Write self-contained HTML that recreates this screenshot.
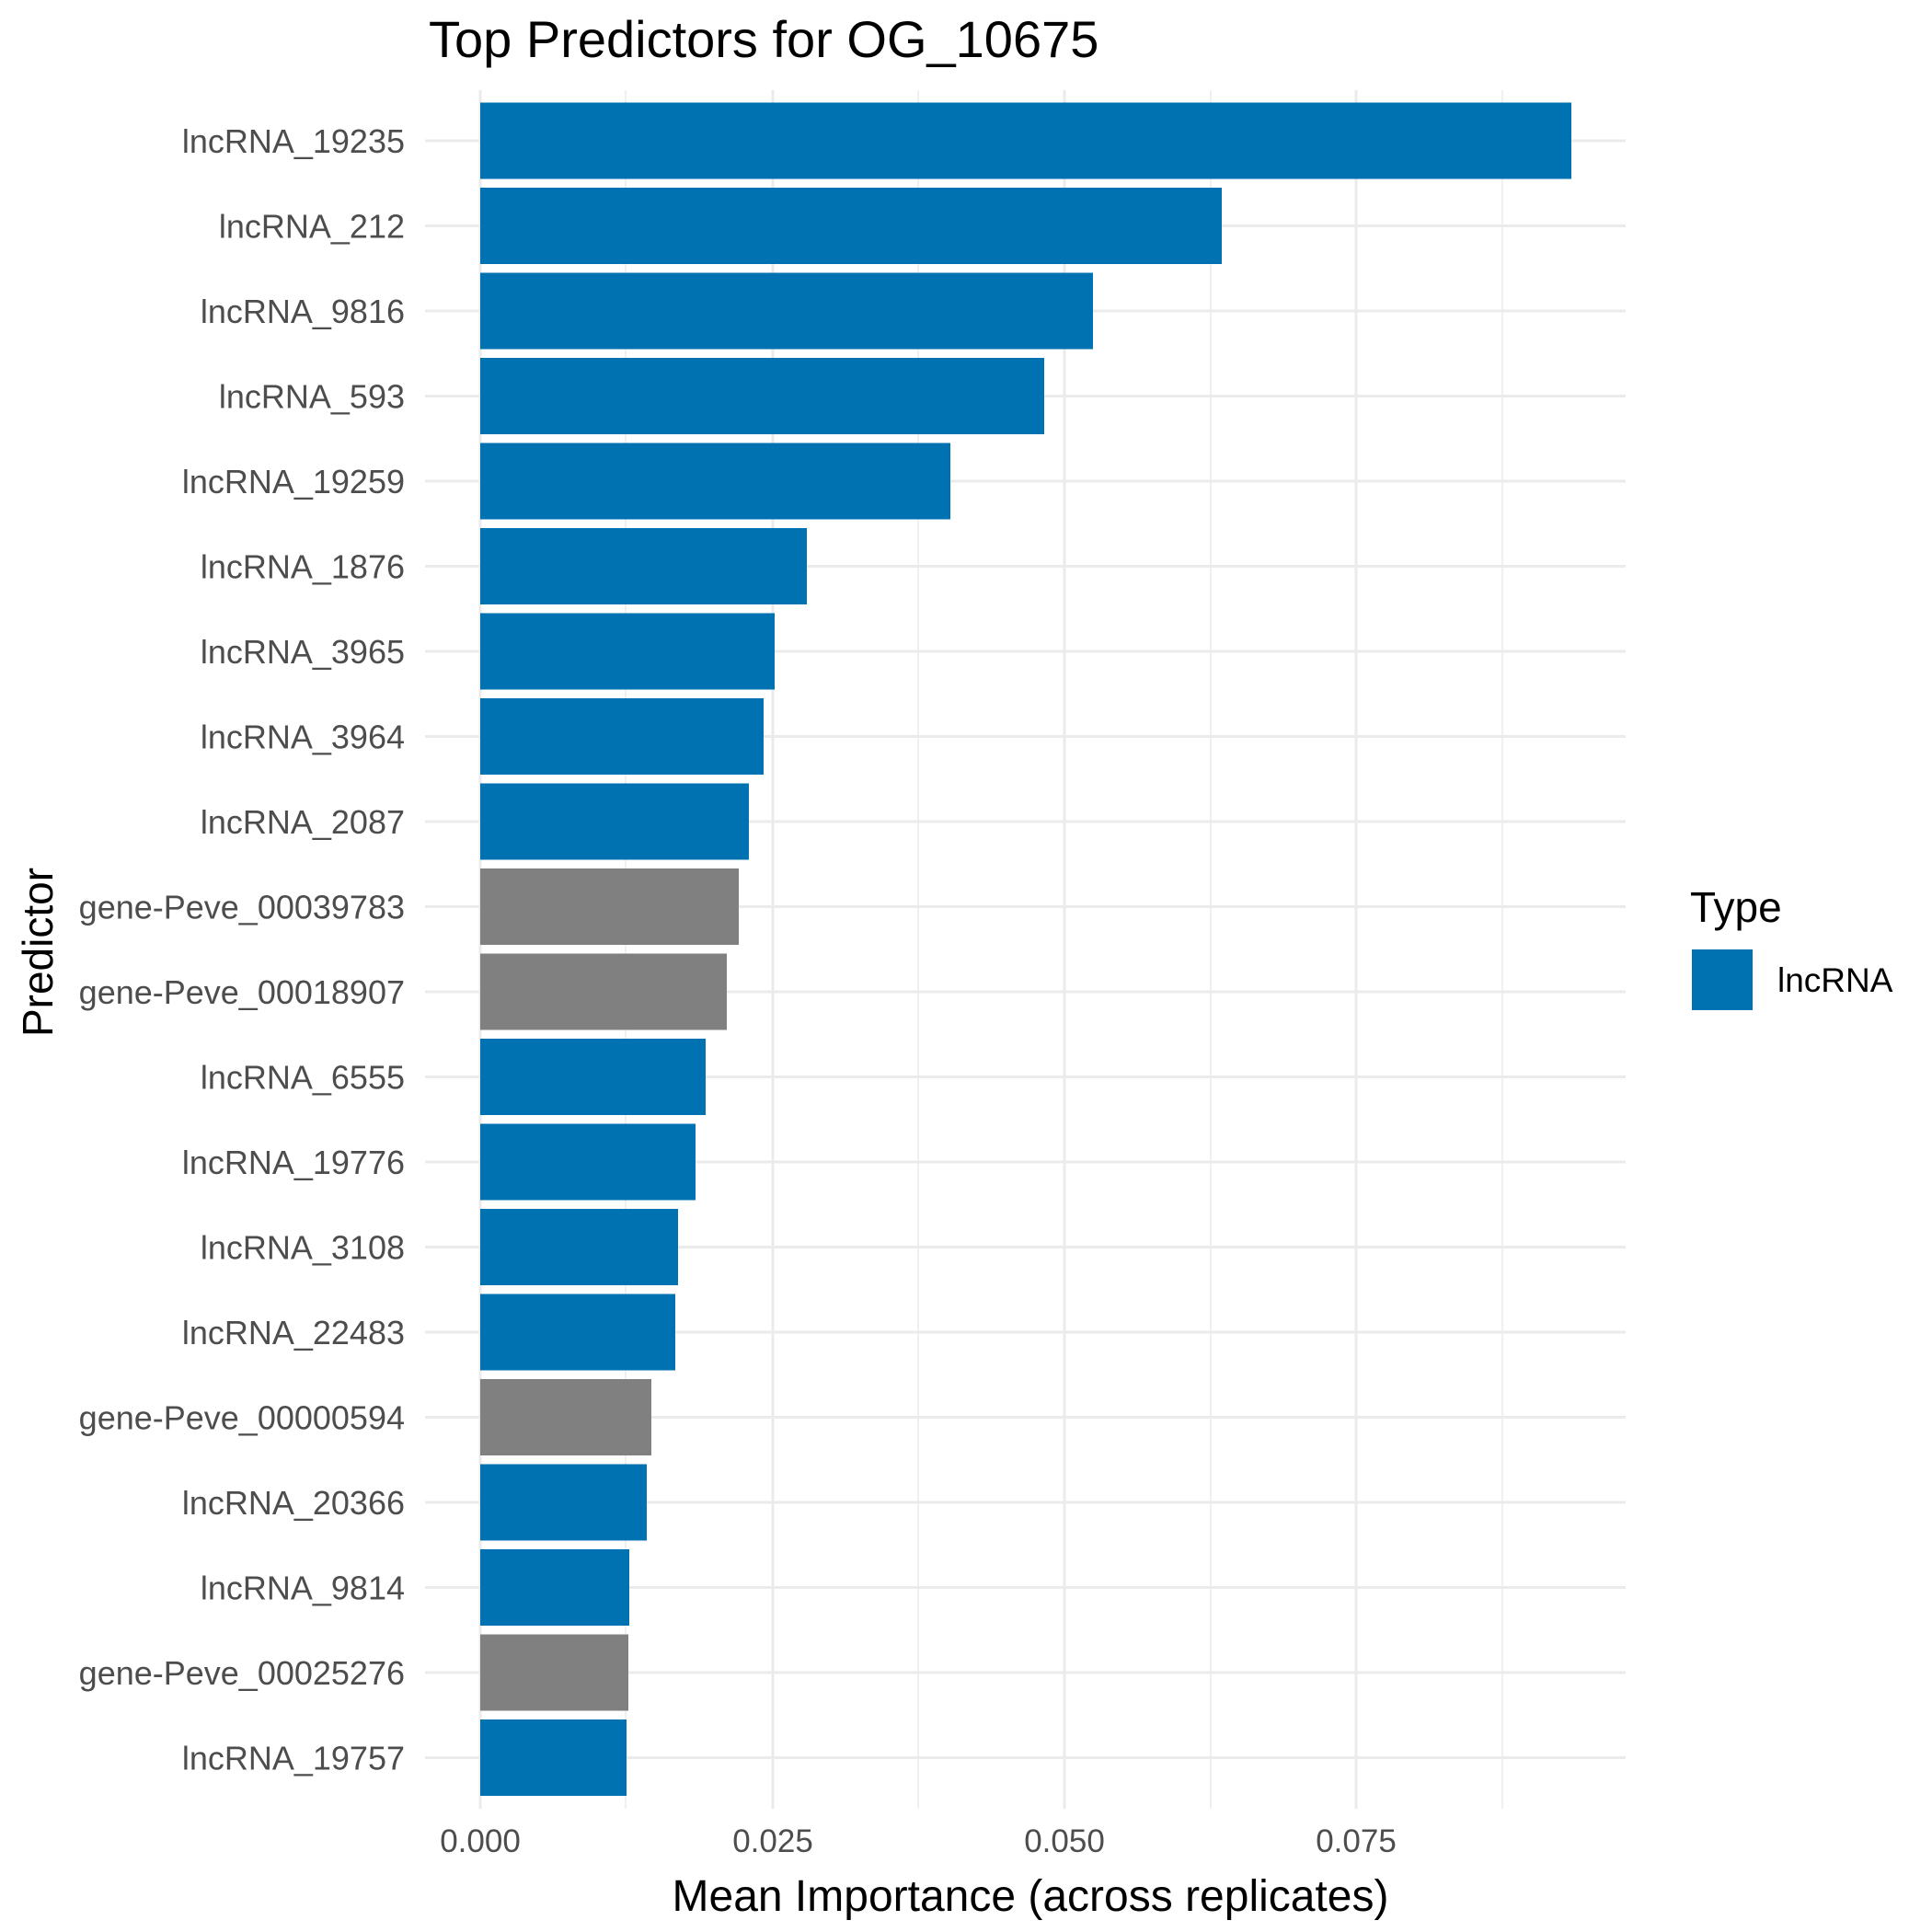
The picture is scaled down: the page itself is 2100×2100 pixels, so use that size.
<!DOCTYPE html>
<html><head><meta charset="utf-8"><style>html,body{margin:0;padding:0;background:#fff}svg{display:block}</style></head>
<body>
<svg width="2100" height="2100" viewBox="0 0 2100 2100" xmlns="http://www.w3.org/2000/svg" font-family="Liberation Sans, sans-serif">
<rect width="2100" height="2100" fill="#fff"/>
<g stroke="#EBEBEB">
<line x1="680" y1="98" x2="680" y2="1966" stroke-width="1.5"/>
<line x1="998" y1="98" x2="998" y2="1966" stroke-width="1.5"/>
<line x1="1316" y1="98" x2="1316" y2="1966" stroke-width="1.5"/>
<line x1="1633" y1="98" x2="1633" y2="1966" stroke-width="1.5"/>
<line x1="522" y1="98" x2="522" y2="1966" stroke-width="3"/>
<line x1="840" y1="98" x2="840" y2="1966" stroke-width="3"/>
<line x1="1157" y1="98" x2="1157" y2="1966" stroke-width="3"/>
<line x1="1474" y1="98" x2="1474" y2="1966" stroke-width="3"/>
</g>
<g stroke="#EBEBEB" stroke-width="3">
<line x1="462" y1="153" x2="1767" y2="153"/>
<line x1="462" y1="245.5" x2="1767" y2="245.5"/>
<line x1="462" y1="338" x2="1767" y2="338"/>
<line x1="462" y1="430.5" x2="1767" y2="430.5"/>
<line x1="462" y1="523" x2="1767" y2="523"/>
<line x1="462" y1="615.5" x2="1767" y2="615.5"/>
<line x1="462" y1="708" x2="1767" y2="708"/>
<line x1="462" y1="800.5" x2="1767" y2="800.5"/>
<line x1="462" y1="893" x2="1767" y2="893"/>
<line x1="462" y1="985.5" x2="1767" y2="985.5"/>
<line x1="462" y1="1078" x2="1767" y2="1078"/>
<line x1="462" y1="1170.5" x2="1767" y2="1170.5"/>
<line x1="462" y1="1263" x2="1767" y2="1263"/>
<line x1="462" y1="1355.5" x2="1767" y2="1355.5"/>
<line x1="462" y1="1448" x2="1767" y2="1448"/>
<line x1="462" y1="1540.5" x2="1767" y2="1540.5"/>
<line x1="462" y1="1633" x2="1767" y2="1633"/>
<line x1="462" y1="1725.5" x2="1767" y2="1725.5"/>
<line x1="462" y1="1818" x2="1767" y2="1818"/>
<line x1="462" y1="1910.5" x2="1767" y2="1910.5"/>
</g>
<g fill="#0072B2">
<rect x="522" y="111.5" width="1186" height="83"/>
<rect x="522" y="204" width="806" height="83"/>
<rect x="522" y="296.5" width="666" height="83"/>
<rect x="522" y="389" width="613" height="83"/>
<rect x="522" y="481.5" width="511" height="83"/>
<rect x="522" y="574" width="355" height="83"/>
<rect x="522" y="666.5" width="320" height="83"/>
<rect x="522" y="759" width="308" height="83"/>
<rect x="522" y="851.5" width="292" height="83"/>
<rect x="522" y="944" width="281" height="83" fill="#808080"/>
<rect x="522" y="1036.5" width="268" height="83" fill="#808080"/>
<rect x="522" y="1129" width="245" height="83"/>
<rect x="522" y="1221.5" width="234" height="83"/>
<rect x="522" y="1314" width="215" height="83"/>
<rect x="522" y="1406.5" width="212" height="83"/>
<rect x="522" y="1499" width="186" height="83" fill="#808080"/>
<rect x="522" y="1591.5" width="181" height="83"/>
<rect x="522" y="1684" width="162" height="83"/>
<rect x="522" y="1776.5" width="161" height="83" fill="#808080"/>
<rect x="522" y="1869" width="159" height="83"/>
</g>
<g font-size="36" fill="#4D4D4D" text-anchor="end">
<text x="440" y="166">lncRNA_19235</text>
<text x="440" y="258.5">lncRNA_212</text>
<text x="440" y="351">lncRNA_9816</text>
<text x="440" y="443.5">lncRNA_593</text>
<text x="440" y="536">lncRNA_19259</text>
<text x="440" y="628.5">lncRNA_1876</text>
<text x="440" y="721">lncRNA_3965</text>
<text x="440" y="813.5">lncRNA_3964</text>
<text x="440" y="906">lncRNA_2087</text>
<text x="440" y="998.5">gene-Peve_00039783</text>
<text x="440" y="1091">gene-Peve_00018907</text>
<text x="440" y="1183.5">lncRNA_6555</text>
<text x="440" y="1276">lncRNA_19776</text>
<text x="440" y="1368.5">lncRNA_3108</text>
<text x="440" y="1461">lncRNA_22483</text>
<text x="440" y="1553.5">gene-Peve_00000594</text>
<text x="440" y="1646">lncRNA_20366</text>
<text x="440" y="1738.5">lncRNA_9814</text>
<text x="440" y="1831">gene-Peve_00025276</text>
<text x="440" y="1923.5">lncRNA_19757</text>
</g>
<text x="466" y="62" font-size="56" fill="#000">Top Predictors for OG_10675</text>
<g font-size="35" fill="#4D4D4D" text-anchor="middle">
<text x="522" y="2013">0.000</text>
<text x="840" y="2013">0.025</text>
<text x="1157" y="2013">0.050</text>
<text x="1474" y="2013">0.075</text>
</g>
<text x="1120" y="2077" font-size="48" text-anchor="middle" fill="#000">Mean Importance (across replicates)</text>
<text transform="translate(57,1035) rotate(-90)" font-size="46" text-anchor="middle" fill="#000">Predictor</text>
<text x="1837" y="1002" font-size="46" fill="#000">Type</text>
<rect x="1839" y="1032" width="66" height="66" fill="#0072B2"/>
<text x="1932" y="1078" font-size="37" fill="#000">lncRNA</text>
</svg>
</body></html>
